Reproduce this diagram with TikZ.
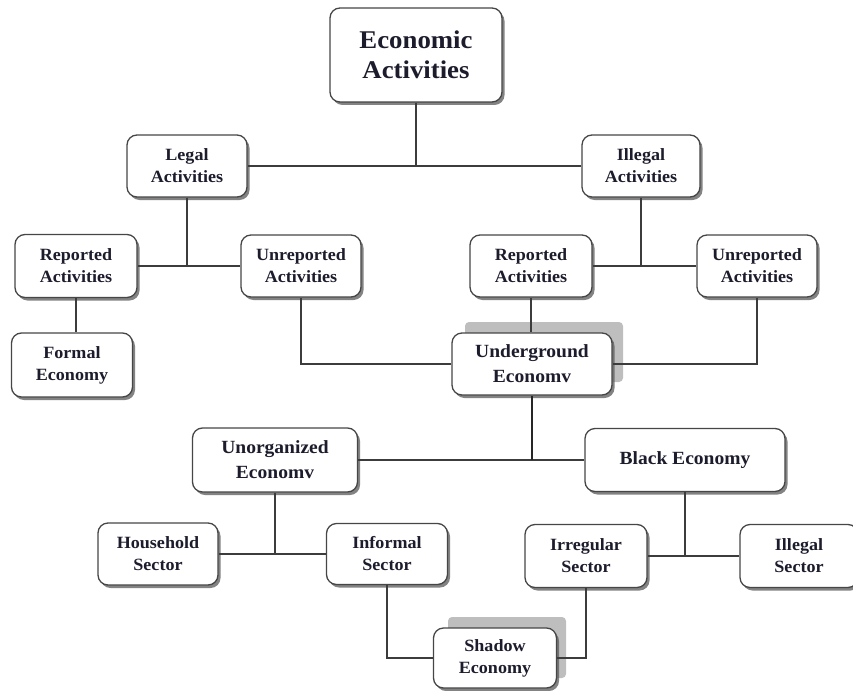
\documentclass[tikz,border=0pt]{standalone}
\usepackage{fontspec}
\setmainfont{Liberation Serif}[FakeStretch=1.05]
\usetikzlibrary{shadows}
\definecolor{txt}{RGB}{28,28,44}
\definecolor{bord}{RGB}{70,70,70}
\definecolor{ln}{RGB}{60,60,60}
\definecolor{halo}{RGB}{190,190,190}
\begin{document}
\begin{tikzpicture}[x=1pt,y=-1pt,
  box/.style={draw=bord, line width=1.3pt, rounded corners=10pt, fill=white,
    align=center, text=txt, font=\bfseries\fontsize{17.2}{22}\selectfont,
    inner sep=2pt,
    drop shadow={shadow xshift=2.5pt, shadow yshift=-3pt, opacity=0.75, fill=black!65}},
  midbox/.style={box, font=\bfseries\fontsize{18.6}{25}\selectfont},
  bigbox/.style={box, font=\bfseries\fontsize{25.5}{30}\selectfont},
  conn/.style={draw=ln, line width=1.3pt},
  thick conn/.style={draw=black!85, line width=2.4pt}
]
\useasboundingbox (0,0) rectangle (853,690);

% grey halos behind two boxes
\fill[halo, rounded corners=4pt] (465,322) rectangle (623,382);
\fill[halo, rounded corners=4pt] (448,617) rectangle (566,678);

\node[bigbox, minimum width=172pt, minimum height=94pt] (eco) at (416,55) {Economic\\Activities};
\node[box, minimum width=120pt, minimum height=62pt] (legal) at (187,166) {Legal\\Activities};
\node[box, minimum width=118pt, minimum height=62pt] (illegal) at (641,166) {Illegal\\Activities};
\node[box, minimum width=122pt, minimum height=63pt] (repL) at (76,266) {Reported\\Activities};
\node[box, minimum width=120pt, minimum height=62pt] (unrepL) at (301,266) {Unreported\\Activities};
\node[box, minimum width=121pt, minimum height=64pt] (formal) at (72,365) {Formal\\Economy};
\node[box, minimum width=122pt, minimum height=62pt] (repR) at (531,266) {Reported\\Activities};
\node[box, minimum width=120pt, minimum height=62pt] (unrepR) at (757,266) {Unreported\\Activities};
\node[midbox, minimum width=160pt, minimum height=62pt] (under) at (532,364) {Underground\\Economv};
\node[midbox, minimum width=165pt, minimum height=64pt] (unorg) at (275,460) {Unorganized\\Economv};
\node[midbox, minimum width=200pt, minimum height=63pt] (black) at (685,460) {Black Economy};
\node[box, minimum width=120pt, minimum height=62pt] (household) at (158,554) {Household\\Sector};
\node[box, minimum width=121pt, minimum height=61pt] (informal) at (387,554) {Informal\\Sector};
\node[box, minimum width=122pt, minimum height=63pt] (irregular) at (586,556) {Irregular\\Sector};
\node[box, minimum width=118pt, minimum height=63pt] (illegalS) at (799,556) {Illegal\\Sector};
\node[box, minimum width=123pt, minimum height=60pt] (shadow) at (495,658) {Shadow\\Economy};

% connectors
\draw[conn] (legal.east) -- (illegal.west);
\draw[conn] (eco.south) -- (eco.south |- legal.east);
\draw[conn] (repL.east) -- (unrepL.west);
\draw[conn] (legal.south) -- (legal.south |- repL.east);
\draw[conn] (repL.south) -- (repL.south |- formal.north);
\draw[conn] (unrepL.south) -- (unrepL.south |- under.west) -- (under.west);
\draw[conn] (repR.east) -- (unrepR.west);
\draw[conn] (illegal.south) -- (illegal.south |- repR.east);
\draw[conn] (repR.south) -- (repR.south |- under.north);
\draw[conn] (unrepR.south) -- (unrepR.south |- under.east) -- (under.east);
\draw[conn] (unorg.east) -- (black.west);
\draw[thick conn] (under.south) -- (under.south |- unorg.east);
\draw[conn] (household.east) -- (informal.west);
\draw[conn] (unorg.south) -- (unorg.south |- household.east);
\draw[conn] (irregular.east) -- (illegalS.west);
\draw[conn] (black.south) -- (black.south |- irregular.east);
\draw[conn] (informal.south) -- (informal.south |- shadow.west) -- (shadow.west);
\draw[conn] (irregular.south) -- (irregular.south |- shadow.east) -- (shadow.east);
\end{tikzpicture}
\end{document}
